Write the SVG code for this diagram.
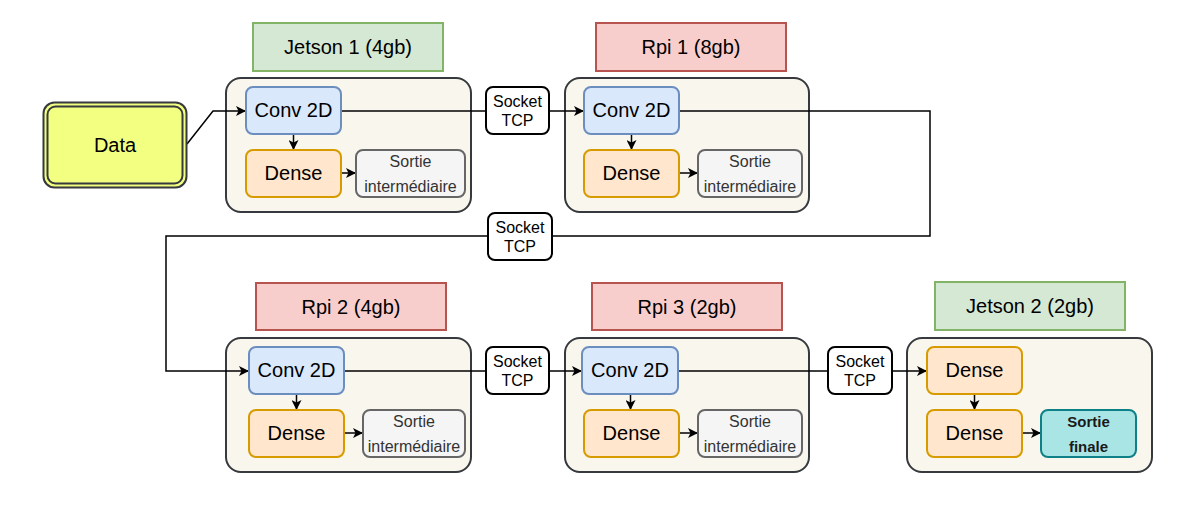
<svg xmlns="http://www.w3.org/2000/svg" width="1201" height="505" viewBox="0 0 1201 505">
<defs>
<style>
text{font-family:"Liberation Sans",Arial,sans-serif;text-anchor:middle;dominant-baseline:central;fill:#000}
.lbl{font-size:20px}
.green{fill:#d5e8d4;stroke:#82b366;stroke-width:2}
.red{fill:#f8cecc;stroke:#b85450;stroke-width:2}
.cont{fill:#f9f7ed;stroke:#36393d;stroke-width:2}
.conv{fill:#dae8fc;stroke:#6c8ebf;stroke-width:2}
.dense{fill:#ffe6cc;stroke:#d79b00;stroke-width:2}
.sortie{fill:#f5f5f5;stroke:#666666;stroke-width:2}
.sortie-t{font-size:16px;fill:#333333}
.final{fill:#a9e5e4;stroke:#0e8088;stroke-width:2}
.final-t{font-size:15px;font-weight:bold;fill:#1a1a1a}
.sock{fill:#ffffff;stroke:#000000;stroke-width:2}
.sock-t{font-size:16px}
.data{fill:#f2ff80;stroke:#36393d;stroke-width:2}
.edge{fill:none;stroke:#000;stroke-width:1.5}
</style>
<marker id="arr" viewBox="0 0 10 10" refX="10" refY="5" markerWidth="10" markerHeight="10" markerUnits="userSpaceOnUse" orient="auto">
<path d="M0,0 L10,5 L0,10 L2.5,5 Z" fill="#000"/>
</marker>
</defs>

<g id="containers">
<rect id="c-jetson1" class="cont" x="226" y="78" width="245" height="134" rx="15"/>
<rect id="c-rpi1" class="cont" x="565" y="78" width="244" height="134" rx="15"/>
<rect id="c-rpi2" class="cont" x="226" y="338" width="245" height="134" rx="15"/>
<rect id="c-rpi3" class="cont" x="565" y="338" width="244" height="134" rx="15"/>
<rect id="c-jetson2" class="cont" x="907" y="338" width="245" height="134" rx="15"/>
</g>

<g id="connectors">
<path class="edge" d="M187,144 L213,111 L246,111" marker-end="url(#arr)"/>
<path class="edge" d="M341,111 L486,111"/>
<path class="edge" d="M549,111 L584,111" marker-end="url(#arr)"/>
<path class="edge" d="M679,111 L930,111 L930,236 L552,236"/>
<path class="edge" d="M488,236 L166,236 L166,371 L249,371" marker-end="url(#arr)"/>
<path class="edge" d="M344,371 L486,371"/>
<path class="edge" d="M549,371 L582,371" marker-end="url(#arr)"/>
<path class="edge" d="M678,371 L828,371"/>
<path class="edge" d="M892,371 L927,371" marker-end="url(#arr)"/>
<path class="edge" d="M293.5,134 L293.5,150" marker-end="url(#arr)"/>
<path class="edge" d="M341,173 L356,173" marker-end="url(#arr)"/>
<path class="edge" d="M631.5,134 L631.5,150" marker-end="url(#arr)"/>
<path class="edge" d="M679,173 L698,173" marker-end="url(#arr)"/>
<path class="edge" d="M296.5,394 L296.5,410" marker-end="url(#arr)"/>
<path class="edge" d="M344,433 L363,433" marker-end="url(#arr)"/>
<path class="edge" d="M630.5,394 L630.5,410" marker-end="url(#arr)"/>
<path class="edge" d="M679,433 L698,433" marker-end="url(#arr)"/>
<path class="edge" d="M974.5,394 L974.5,410" marker-end="url(#arr)"/>
<path class="edge" d="M1022,433 L1041,433" marker-end="url(#arr)"/>
</g>

<g id="data">
<rect class="data" x="43.5" y="102.5" width="143" height="85" rx="11"/>
<rect class="data" x="47.5" y="106.5" width="135" height="77" rx="8"/>
<text class="lbl" x="115" y="145">Data</text>
</g>

<g id="label-jetson1"><rect class="green" x="253" y="23" width="190" height="48"/><text class="lbl" x="348" y="47">Jetson 1 (4gb)</text></g>
<g id="label-rpi1"><rect class="red" x="596" y="23" width="190" height="48"/><text class="lbl" x="691" y="47">Rpi 1 (8gb)</text></g>
<g id="label-rpi2"><rect class="red" x="256" y="283" width="190" height="47"/><text class="lbl" x="351" y="306.5">Rpi 2 (4gb)</text></g>
<g id="label-rpi3"><rect class="red" x="592" y="283" width="190" height="47"/><text class="lbl" x="687" y="306.5">Rpi 3 (2gb)</text></g>
<g id="label-jetson2"><rect class="green" x="935" y="282" width="190" height="48"/><text class="lbl" x="1030" y="306">Jetson 2 (2gb)</text></g>

<g id="jetson1-conv"><rect class="conv" x="246" y="87" width="95" height="47" rx="7"/><text class="lbl" x="293.5" y="110">Conv 2D</text></g>
<g id="jetson1-dense"><rect class="dense" x="246" y="150" width="95" height="47" rx="7"/><text class="lbl" x="293.5" y="173">Dense</text></g>
<g id="jetson1-sortie"><rect class="sortie" x="356" y="150" width="109" height="47" rx="7"/><text class="sortie-t" x="410.5" y="161.5">Sortie</text><text class="sortie-t" x="410.5" y="186.5">intermédiaire</text></g>

<g id="socket1"><rect class="sock" x="486" y="87" width="63" height="47" rx="7"/><text class="sock-t" x="517.5" y="101">Socket</text><text class="sock-t" x="517.5" y="120">TCP</text></g>

<g id="rpi1-conv"><rect class="conv" x="584" y="87" width="95" height="47" rx="7"/><text class="lbl" x="631.5" y="110">Conv 2D</text></g>
<g id="rpi1-dense"><rect class="dense" x="584" y="150" width="95" height="47" rx="7"/><text class="lbl" x="631.5" y="173">Dense</text></g>
<g id="rpi1-sortie"><rect class="sortie" x="698" y="150" width="104" height="47" rx="7"/><text class="sortie-t" x="750" y="161.5">Sortie</text><text class="sortie-t" x="750" y="186.5">intermédiaire</text></g>

<g id="socket2"><rect class="sock" x="488" y="213" width="64" height="47" rx="7"/><text class="sock-t" x="520" y="227">Socket</text><text class="sock-t" x="520" y="246">TCP</text></g>

<g id="rpi2-conv"><rect class="conv" x="249" y="347" width="95" height="47" rx="7"/><text class="lbl" x="296.5" y="370">Conv 2D</text></g>
<g id="rpi2-dense"><rect class="dense" x="249" y="410" width="95" height="47" rx="7"/><text class="lbl" x="296.5" y="433">Dense</text></g>
<g id="rpi2-sortie"><rect class="sortie" x="363" y="410" width="102" height="47" rx="7"/><text class="sortie-t" x="414" y="421.5">Sortie</text><text class="sortie-t" x="414" y="446.5">intermédiaire</text></g>

<g id="socket3"><rect class="sock" x="486" y="347" width="63" height="47" rx="7"/><text class="sock-t" x="517.5" y="361">Socket</text><text class="sock-t" x="517.5" y="380">TCP</text></g>

<g id="rpi3-conv"><rect class="conv" x="582" y="347" width="96" height="47" rx="7"/><text class="lbl" x="630" y="370">Conv 2D</text></g>
<g id="rpi3-dense"><rect class="dense" x="584" y="410" width="95" height="47" rx="7"/><text class="lbl" x="631.5" y="433">Dense</text></g>
<g id="rpi3-sortie"><rect class="sortie" x="698" y="410" width="104" height="47" rx="7"/><text class="sortie-t" x="750" y="421.5">Sortie</text><text class="sortie-t" x="750" y="446.5">intermédiaire</text></g>

<g id="socket4"><rect class="sock" x="828" y="347" width="64" height="47" rx="7"/><text class="sock-t" x="860" y="361">Socket</text><text class="sock-t" x="860" y="380">TCP</text></g>

<g id="jetson2-dense1"><rect class="dense" x="927" y="347" width="95" height="47" rx="7"/><text class="lbl" x="974.5" y="370">Dense</text></g>
<g id="jetson2-dense2"><rect class="dense" x="927" y="410" width="95" height="47" rx="7"/><text class="lbl" x="974.5" y="433">Dense</text></g>
<g id="jetson2-final"><rect class="final" x="1041" y="410" width="95" height="47" rx="7"/><text class="final-t" x="1088.5" y="421.5">Sortie</text><text class="final-t" x="1088.5" y="446.5">finale</text></g>
</svg>
